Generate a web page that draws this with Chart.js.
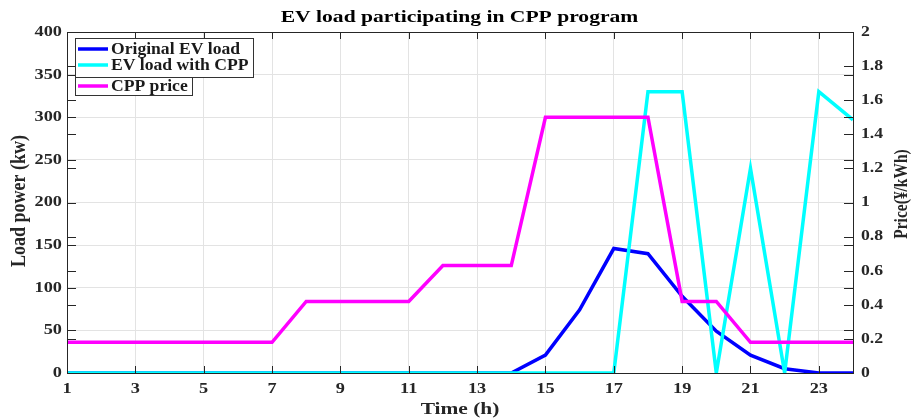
<!DOCTYPE html>
<html><head><meta charset="utf-8">
<script src="https://cdn.jsdelivr.net/npm/chart.js@4.4.0/dist/chart.umd.min.js"></script>
<style>html,body{margin:0;padding:0;background:#fff}#wrap{width:914px;height:419px}</style>
</head><body><div id="wrap"><canvas id="c" width="914" height="419"></canvas></div>
<script>
const hours = [1,2,3,4,5,6,7,8,9,10,11,12,13,14,15,16,17,18,19,20,21,22,23,24];
const originalLoad = [0,0,0,0,0,0,0,0,0,0,0,0,0,0,21,74,146,140,90,49,21,5,0,0];
const cppLoad = [0,0,0,0,0,0,0,0,0,0,0,0,0,0,0,0,0,330,330,0,240,0,330,297];
const cppPrice = [0.18,0.18,0.18,0.18,0.18,0.18,0.18,0.42,0.42,0.42,0.42,0.63,0.63,0.63,1.5,1.5,1.5,1.5,0.42,0.42,0.18,0.18,0.18,0.18];
const xTicks = [1,3,5,7,9,11,13,15,17,19,21,23];
const loadTicks = [0,50,100,150,200,250,300,350,400];
const priceTicks = ['0','0.2','0.4','0.6','0.8','1','1.2','1.4','1.6','1.8','2'];
const seriesNames = ['Original EV load','EV load with CPP','CPP price'];
const titleText = 'EV load participating in CPP program';
const xTitle = 'Time (h)';
const yTitle = 'Load power (kw)';
const y1Title = 'Price(¥/kWh)';
const colors = ['#0000ff','#00ffff','#ff00ff'];
const FONT = "'Liberation Serif','Times New Roman',serif";
const TXT = '#262626';

const pts = arr => arr.map((v,i)=>({x:hours[i],y:v}));

function stretchText(ctx, text, x, y, size, sx, align, rot){
  ctx.save();
  ctx.font = 'bold '+size+'px '+FONT;
  ctx.textAlign = align; ctx.textBaseline = 'middle';
  ctx.translate(x,y);
  if(rot) ctx.rotate(rot);
  ctx.scale(sx,1);
  ctx.fillText(text,0,0);
  ctx.restore();
}

const framePlugin = {
  id:'frame',
  afterDraw(chart){
    const {ctx, chartArea:a} = chart;
    const xs = chart.scales.x, yl = chart.scales.y, yr = chart.scales.y1;
    ctx.save();
    ctx.strokeStyle='#262626'; ctx.lineWidth=1;
    ctx.strokeRect(Math.round(a.left)+0.5, Math.round(a.top)+0.5, Math.round(a.right-a.left), Math.round(a.bottom-a.top));
    ctx.beginPath();
    xTicks.forEach(t=>{const px=Math.round(xs.getPixelForValue(t))+0.5; ctx.moveTo(px,a.bottom); ctx.lineTo(px,a.bottom-7); ctx.moveTo(px,a.top); ctx.lineTo(px,a.top+7);});
    loadTicks.forEach(v=>{const py=Math.round(yl.getPixelForValue(v))+0.5; ctx.moveTo(a.left,py); ctx.lineTo(a.left+9,py); ctx.moveTo(a.right,py); ctx.lineTo(a.right-9,py);});
    priceTicks.forEach(s=>{const py=Math.round(yr.getPixelForValue(parseFloat(s)))+0.5; ctx.moveTo(a.right,py); ctx.lineTo(a.right-9,py); ctx.moveTo(a.left,py); ctx.lineTo(a.left+9,py);});
    ctx.stroke();
    // tick labels
    ctx.fillStyle = TXT;
    xTicks.forEach(t=>stretchText(ctx, String(t), xs.getPixelForValue(t), a.bottom+16, 15, 1.22, 'center'));
    loadTicks.forEach(v=>stretchText(ctx, String(v), a.left-5, yl.getPixelForValue(v), 15, 1.22, 'right'));
    priceTicks.forEach(s=>stretchText(ctx, s, a.right+8, yr.getPixelForValue(parseFloat(s)), 15, 1.18, 'left'));
    // axis titles
    stretchText(ctx, xTitle, (a.left+a.right)/2, 410, 17, 1.26, 'center');
    ctx.save(); ctx.translate(20,201); ctx.rotate(-Math.PI/2); ctx.scale(1,1.15);
    ctx.font='bold 18px '+FONT; ctx.textAlign='center'; ctx.textBaseline='middle'; ctx.fillText(yTitle,0,0); ctx.restore();
    ctx.save(); ctx.translate(902,194); ctx.rotate(-Math.PI/2); ctx.scale(1,1.2);
    ctx.font='bold 15.5px '+FONT; ctx.textAlign='center'; ctx.textBaseline='middle'; ctx.fillText(y1Title,0,0); ctx.restore();
    // title
    ctx.fillStyle='#000';
    stretchText(ctx, titleText, 459.5, 18, 17, 1.27, 'center');
    // legend
    ctx.fillStyle='#fff';
    const lx=75, ly=38;
    ctx.fillRect(lx,ly,178,39); ctx.fillRect(lx,ly+39,117,18);
    ctx.strokeStyle='#333'; ctx.lineWidth=1;
    ctx.strokeRect(lx+0.5,ly+0.5,178,39);
    ctx.strokeRect(lx+0.5,ly+39.5,117,18);
    const rows=[49,65,86];
    seriesNames.forEach((n,i)=>{
      const cy = rows[i];
      ctx.strokeStyle=colors[i]; ctx.lineWidth=3.5;
      ctx.beginPath(); ctx.moveTo(lx+3,cy); ctx.lineTo(lx+33,cy); ctx.stroke();
      ctx.fillStyle='#1a1a1a';
      stretchText(ctx, n, lx+36, cy+1, 16, 1.1, 'left');
    });
    ctx.restore();
  }
};

new Chart(document.getElementById('c'), {
  type:'line',
  data:{datasets:[
    {label:seriesNames[0], data:pts(originalLoad), borderColor:colors[0], yAxisID:'y', order:2},
    {label:seriesNames[1], data:pts(cppLoad), borderColor:colors[1], yAxisID:'y', order:1},
    {label:seriesNames[2], data:pts(cppPrice), borderColor:colors[2], yAxisID:'y1', order:0}
  ]},
  options:{
    responsive:false, animation:false,
    layout:{padding:{top:32,left:0,right:0,bottom:0}},
    elements:{point:{radius:0}, line:{borderWidth:3.5, tension:0}},
    plugins:{legend:{display:false}, title:{display:false}, tooltip:{enabled:false}},
    scales:{
      x:{type:'linear', min:1, max:24,
        afterBuildTicks(s){ s.ticks = xTicks.map(v=>({value:v})); },
        afterFit(s){ s.height = 46; },
        grid:{color:'#e3e3e3', drawTicks:false},
        border:{display:false},
        ticks:{display:false}
      },
      y:{position:'left', min:0, max:400,
        afterFit(s){ s.width = 67; },
        grid:{color:'#e3e3e3', drawTicks:false},
        border:{display:false},
        ticks:{display:false, stepSize:50}
      },
      y1:{position:'right', min:0, max:2,
        afterFit(s){ s.width = 61; },
        grid:{display:false, drawTicks:false},
        border:{display:false},
        ticks:{display:false, stepSize:0.2}
      }
    }
  },
  plugins:[framePlugin]
});
</script></body></html>
